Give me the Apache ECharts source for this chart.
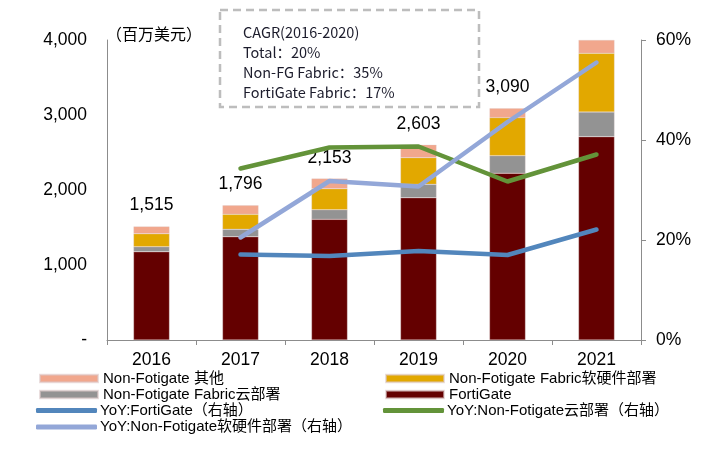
<!DOCTYPE html>
<html><head><meta charset="utf-8">
<script src="https://cdn.jsdelivr.net/npm/echarts@6/dist/echarts.min.js"></script>
<style>html,body{margin:0;padding:0;background:#fff}#c{width:722px;height:449px}</style>
</head><body><div id="c"></div>
<script>
const categories = ['2016','2017','2018','2019','2020','2021'];
const fortiGate = [1177, 1377, 1609, 1897, 2223, 2711];
const fabricCloud = [67, 99, 128, 179, 235, 329];
const fabricSoftHard = [173, 200, 280, 355, 507, 783];
const nonFgOther = [98, 120, 136, 172, 125, 177];
const totals = [1515, 1796, 2153, 2603, 3090, null];
const yoyFortiGate = [null, 17.1, 16.8, 17.8, 17.0, 22.1];
const yoyCloud = [null, 34.3, 38.5, 38.7, 31.7, 37.1];
const yoySoftHard = [null, 20.5, 31.8, 30.7, 43.6, 55.5];
const leftTicks = [0, 1000, 2000, 3000, 4000];
const cagrLines = ['CAGR(2016-2020)', 'Total：20%', 'Non-FG Fabric：35%', 'FortiGate Fabric：17%'];

const FONT = '"Liberation Sans", "Noto Sans CJK SC", sans-serif';
const CJK = '"Noto Sans CJK SC", sans-serif';
const FS = 17.5;
const names = {
  other: 'Non-Fotigate 其他',
  soft: 'Non-Fotigate Fabric软硬件部署',
  cloud: 'Non-Fotigate Fabric云部署',
  fg: 'FortiGate',
  yfg: 'YoY:FortiGate（右轴）',
  ycloud: 'YoY:Non-Fotigate云部署（右轴）',
  ysoft: 'YoY:Non-Fotigate软硬件部署（右轴）'
};
const colors = {other:'#F1A78D', soft:'#E2A800', cloud:'#939393', fg:'#640000', yfg:'#5286BC', ycloud:'#639339', ysoft:'#93A7D8'};

function leg(name, left, top, isLine) {
  return {
    left: left, top: top, orient: 'vertical', data: [{name: name, icon: isLine ? 'roundRect' : 'rect'}],
    itemWidth: isLine ? 61 : 58, itemHeight: isLine ? 5 : 7.5, itemGap: 0,
    textStyle: {fontFamily: FONT, fontSize: 15, color: '#000', padding: [0,0,0,isLine ? -2 : 0]},
    padding: 0, selectedMode: false
  };
}

const chart = echarts.init(document.getElementById('c'));
const barBase = {type: 'bar', stack: 'total', barWidth: 36, yAxisIndex: 0,
  itemStyle: {borderColor: 'rgba(220,200,200,0.6)', borderWidth: 0.5}};
chart.setOption({
  animation: false,
  grid: {left: 107, right: 81, top: 40, bottom: 109},
  graphic: [
    {type: 'rect', shape: {x: 220, y: 10, width: 259, height: 97},
     style: {fill: 'none', stroke: '#bdbdbd', lineWidth: 2.5, lineDash: [8, 5]}, z: 10},
    {type: 'text', left: 243, top: 22, z: 11,
     style: {text: cagrLines.join('\n'), fontFamily: CJK, fontSize: 14.5, lineHeight: 20, fill: '#1c1c2c'}},
    {type: 'text', left: 106, top: 26, z: 11,
     style: {text: '（百万美元）', fontFamily: CJK, fontSize: 16, fill: '#000'}}
  ],
  legend: [
    leg(names.other, 39, 371, false),
    leg(names.soft, 385, 371, false),
    leg(names.cloud, 39, 387, false),
    leg(names.fg, 385, 387, false),
    leg(names.yfg, 36, 403, true),
    leg(names.ycloud, 383, 403, true),
    leg(names.ysoft, 36, 419.5, true)
  ],
  xAxis: {
    type: 'category', data: categories,
    axisLine: {lineStyle: {color: '#8c8c8c', width: 1}},
    axisTick: {show: true, alignWithLabel: false, length: 5, lineStyle: {color: '#8c8c8c'}},
    axisLabel: {fontFamily: FONT, fontSize: FS, color: '#000', margin: 11}
  },
  yAxis: [
    {type: 'value', min: 0, max: 4000, interval: 1000,
     axisLine: {show: true, lineStyle: {color: '#8c8c8c'}}, axisTick: {show: false}, splitLine: {show: false},
     axisLabel: {fontFamily: FONT, fontSize: FS, color: '#000', margin: 20,
       formatter: v => v === 0 ? '-' : v.toLocaleString('en-US')}},
    {type: 'value', min: 0, max: 60, interval: 20, position: 'right',
     axisLine: {show: true, lineStyle: {color: '#8c8c8c'}},
     axisTick: {show: true, inside: false, length: 5, lineStyle: {color: '#8c8c8c'}}, splitLine: {show: false},
     axisLabel: {fontFamily: FONT, fontSize: FS, color: '#000', margin: 15, formatter: v => v + '%'}}
  ],
  series: [
    Object.assign({}, barBase, {name: names.fg, data: fortiGate, itemStyle: Object.assign({}, barBase.itemStyle, {color: colors.fg})}),
    Object.assign({}, barBase, {name: names.cloud, data: fabricCloud, itemStyle: Object.assign({}, barBase.itemStyle, {color: colors.cloud})}),
    Object.assign({}, barBase, {name: names.soft, data: fabricSoftHard, itemStyle: Object.assign({}, barBase.itemStyle, {color: colors.soft})}),
    Object.assign({}, barBase, {name: names.other, data: nonFgOther, itemStyle: Object.assign({}, barBase.itemStyle, {color: colors.other}),
      label: {show: true, position: 'top', distance: 12, fontFamily: FONT, fontSize: FS, color: '#000',
        formatter: p => totals[p.dataIndex] == null ? '' : totals[p.dataIndex].toLocaleString('en-US')}}),
    {type: 'line', name: names.yfg, yAxisIndex: 1, data: yoyFortiGate, showSymbol: false, symbol: 'none',
     lineStyle: {color: colors.yfg, width: 4.5, cap: 'round'}, itemStyle: {color: colors.yfg}, z: 5},
    {type: 'line', name: names.ycloud, yAxisIndex: 1, data: yoyCloud, showSymbol: false, symbol: 'none',
     lineStyle: {color: colors.ycloud, width: 4.5, cap: 'round'}, itemStyle: {color: colors.ycloud}, z: 5},
    {type: 'line', name: names.ysoft, yAxisIndex: 1, data: yoySoftHard, showSymbol: false, symbol: 'none',
     lineStyle: {color: colors.ysoft, width: 4.5, cap: 'round'}, itemStyle: {color: colors.ysoft}, z: 5}
  ]
});
</script></body></html>
